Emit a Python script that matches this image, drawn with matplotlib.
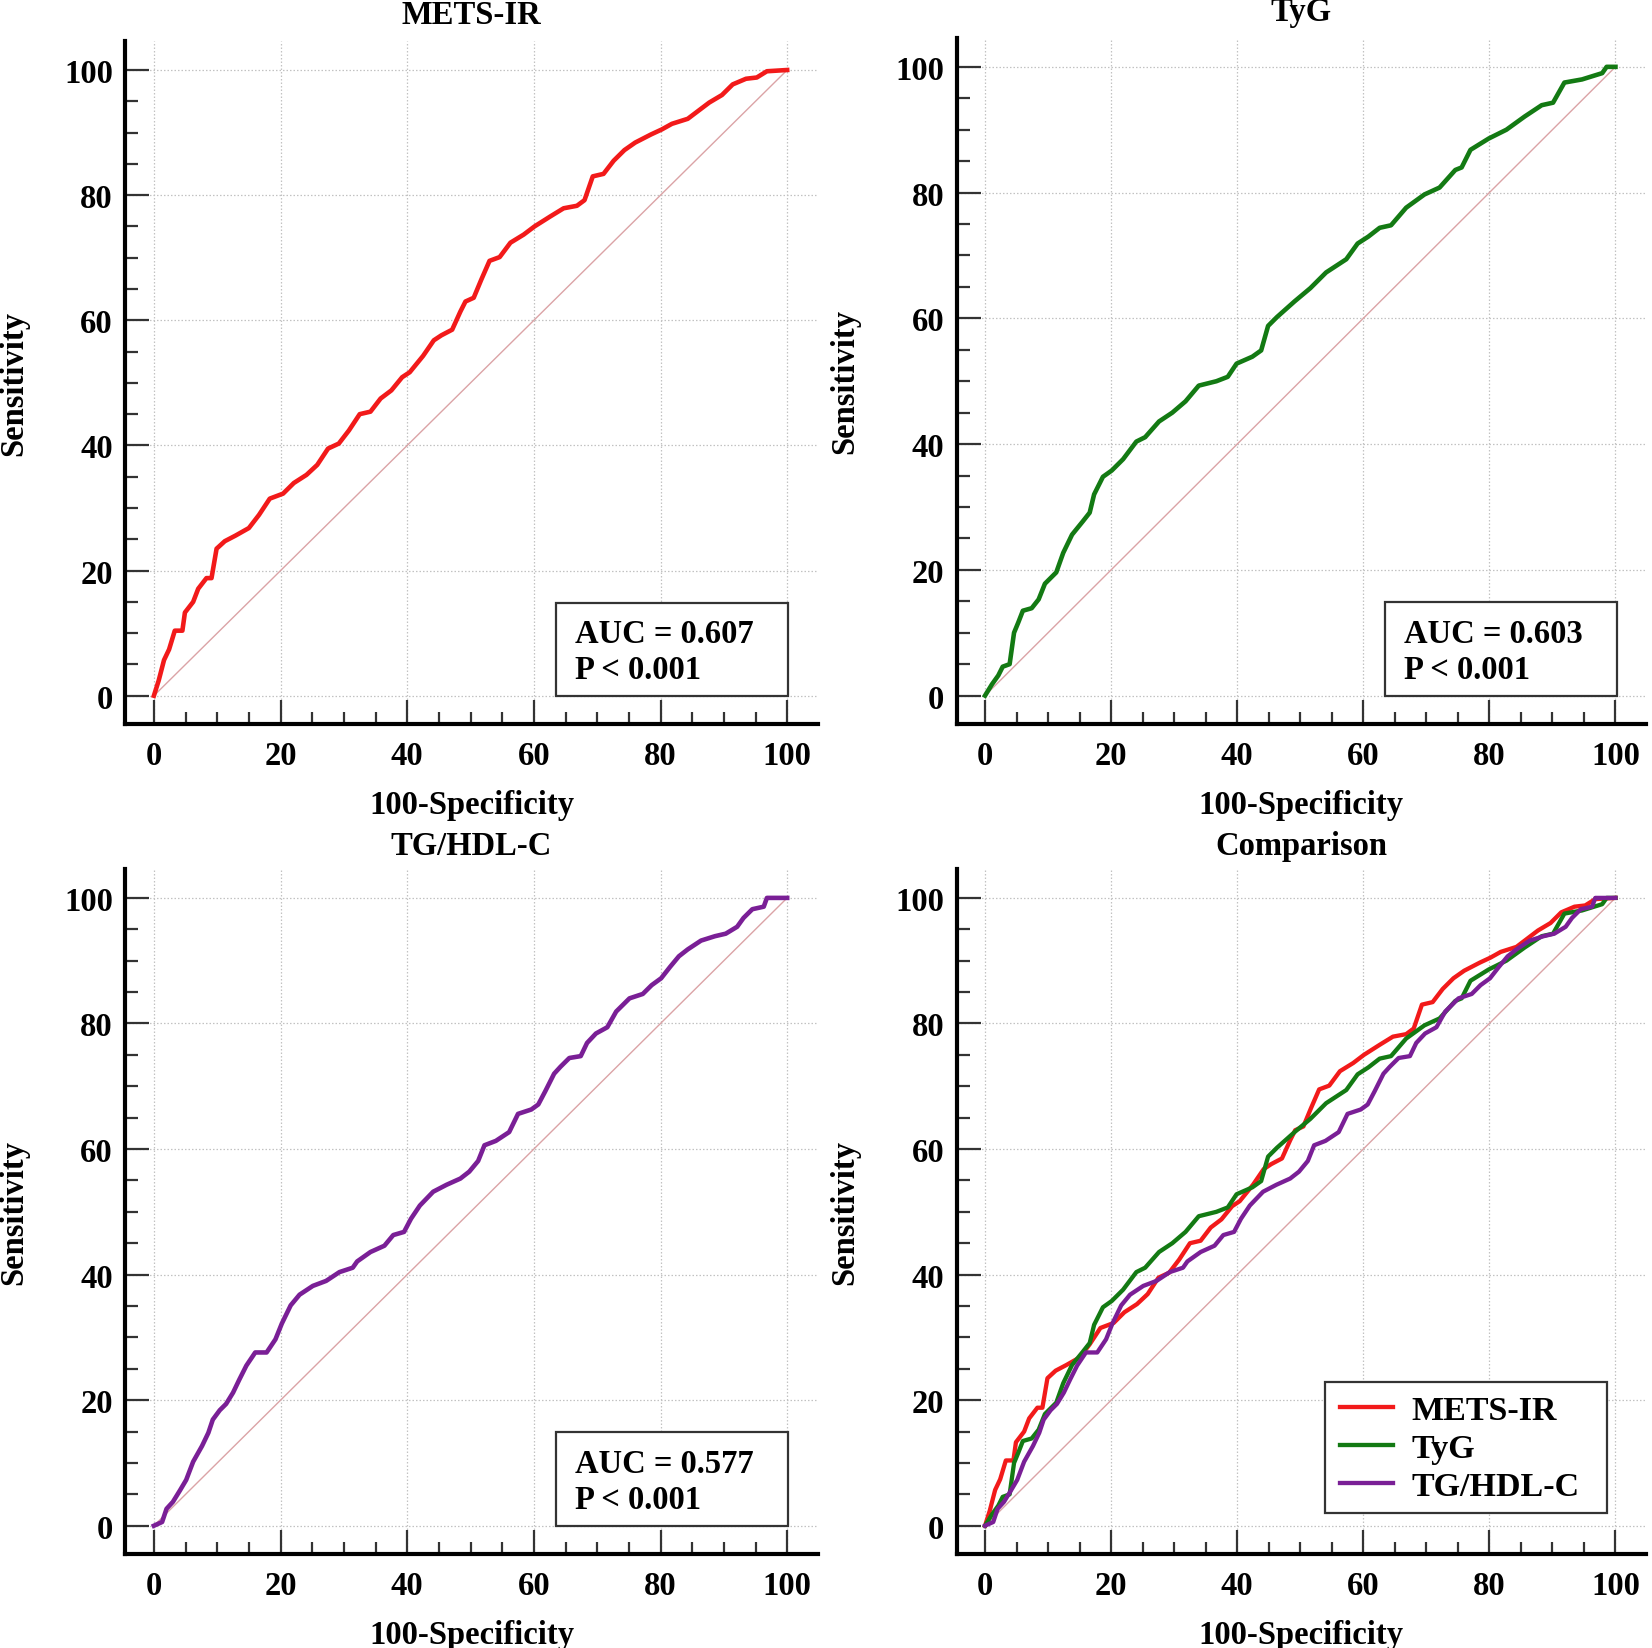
import matplotlib
matplotlib.use('Agg')
import matplotlib.pyplot as plt
from matplotlib.patches import Rectangle
from matplotlib.ticker import MultipleLocator

plt.rcParams['font.family'] = ['Liberation Serif', 'DejaVu Serif']
plt.rcParams['font.weight'] = 'bold'

# ---------------- data (100-Specificity, Sensitivity) ----------------
mets_x = [0, 0.75, 1.6, 2.4, 3.3, 4.5, 4.9, 6.2, 7.0, 8.3, 9.1, 9.9, 11.2, 12.9, 15.0, 16.6,
          18.3, 20.4, 22.1, 24.1, 25.8, 27.5, 29.2, 30.8, 32.5, 34.2, 35.8, 37.5, 39.2, 40.4,
          42.5, 44.2, 45.4, 47.1, 48.4, 49.2, 50.5, 51.7, 53.0, 54.6, 56.3, 58.4, 60.1, 62.6,
          64.7, 66.8, 68.0, 69.3, 71.0, 72.6, 74.3, 76.0, 78.5, 80.2, 81.8, 84.3, 86.0, 87.7,
          89.7, 91.4, 93.5, 95.2, 96.8, 100]
mets_y = [0, 2.4, 5.7, 7.4, 10.4, 10.4, 13.3, 15.0, 17.1, 18.8, 18.8, 23.5, 24.7, 25.6, 26.8, 28.9,
          31.5, 32.3, 34.0, 35.3, 36.9, 39.5, 40.3, 42.4, 45.0, 45.4, 47.5, 48.8, 50.9, 51.7,
          54.3, 56.8, 57.6, 58.5, 61.4, 63.0, 63.6, 66.5, 69.5, 70.1, 72.4, 73.7, 75.0, 76.6,
          77.9, 78.3, 79.2, 83.0, 83.4, 85.5, 87.2, 88.4, 89.7, 90.5, 91.4, 92.2, 93.5, 94.8,
          96.0, 97.7, 98.6, 98.8, 99.8, 100]

tyg_x = [0, 1.1, 2.1, 2.8, 3.9, 4.6, 5.3, 6.0, 7.4, 8.5, 9.5, 11.3, 12.4, 13.8, 15.5, 16.6,
         17.3, 18.7, 20.1, 21.9, 24.0, 25.4, 27.6, 29.7, 31.8, 33.9, 36.7, 38.5, 39.9, 42.4,
         43.8, 44.9, 46.3, 49.1, 51.6, 54.1, 57.3, 59.1, 60.8, 62.6, 64.4, 66.8, 69.7, 72.1,
         74.6, 75.6, 77.0, 79.9, 82.7, 85.6, 88.3, 90.1, 91.9, 94.7, 97.9, 98.6, 100]
tyg_y = [0, 1.8, 3.2, 4.6, 5.0, 10.0, 11.7, 13.5, 13.9, 15.3, 17.8, 19.6, 22.7, 25.6, 27.7, 29.1,
         32.0, 34.8, 35.8, 37.6, 40.4, 41.1, 43.6, 45.0, 46.8, 49.3, 50.0, 50.7, 52.8, 53.9,
         54.9, 58.8, 60.2, 62.7, 64.8, 67.3, 69.4, 71.9, 73.0, 74.4, 74.8, 77.6, 79.7, 80.8,
         83.6, 84.0, 86.8, 88.6, 90.0, 92.1, 93.9, 94.3, 97.5, 98.0, 99.0, 100, 100]

tg_x = [0, 1.3, 2.0, 3.0, 4.1, 5.1, 6.2, 7.6, 8.6, 9.3, 10.4, 11.4, 12.5, 13.5, 14.6, 16.0,
        17.8, 19.2, 20.2, 21.6, 23.0, 25.1, 27.2, 29.3, 31.4, 32.1, 34.2, 36.4, 37.8, 39.5,
        40.6, 42.0, 44.1, 46.2, 48.4, 49.8, 51.2, 52.2, 54.0, 56.1, 57.5, 59.6, 60.7, 61.8,
        63.2, 64.2, 65.6, 67.4, 68.4, 69.8, 71.6, 73.0, 75.1, 77.2, 78.6, 80.1, 81.5, 82.9,
        84.3, 86.4, 88.6, 90.3, 92.1, 93.1, 94.5, 96.3, 96.8, 100]
tg_y = [0, 0.6, 2.7, 3.8, 5.6, 7.3, 10.2, 12.7, 14.8, 16.9, 18.4, 19.4, 21.2, 23.3, 25.5, 27.6,
        27.6, 29.7, 32.2, 35.1, 36.8, 38.2, 39.0, 40.4, 41.1, 42.1, 43.6, 44.6, 46.3, 46.8,
        48.9, 51.0, 53.2, 54.3, 55.3, 56.4, 58.1, 60.6, 61.3, 62.7, 65.6, 66.3, 67.1, 69.2,
        72.0, 73.1, 74.5, 74.8, 76.9, 78.4, 79.4, 81.9, 84.0, 84.7, 86.1, 87.2, 89.0, 90.7,
        91.8, 93.2, 93.9, 94.3, 95.4, 96.8, 98.2, 98.6, 100, 100]

names = ['METS-IR', 'TyG', 'TG/HDL-C']
aucs = ['0.607', '0.603', '0.577']
p_text = 'P < 0.001'
colors = ['#f21a1a', '#137a13', '#7a1f96']
tick_vals = [0, 20, 40, 60, 80, 100]

FS = 23.5
XLIM = (-4.5, 104.8)
YLIM = (-4.5, 104.6)

fig = plt.figure(figsize=(16.52, 16.49), dpi=100)

positions = [
    [0.0759, 0.5604, 0.4190, 0.4140],
    [0.5791, 0.5604, 0.4171, 0.4160],
    [0.0759, 0.0570, 0.4190, 0.4154],
    [0.5791, 0.0570, 0.4171, 0.4154],
]
titles = ['METS-IR', 'TyG', 'TG/HDL-C', 'Comparison']
series = [(mets_x, mets_y), (tyg_x, tyg_y), (tg_x, tg_y)]


def style_axes(ax, title, tpad):
    ax.set_xlim(*XLIM)
    ax.set_ylim(*YLIM)
    for s in ['top', 'right']:
        ax.spines[s].set_visible(False)
    for s in ['left', 'bottom']:
        ax.spines[s].set_linewidth(3.0)
        ax.spines[s].set_color('black')
    ax.set_xticks(tick_vals)
    ax.set_yticks(tick_vals)
    ax.xaxis.set_minor_locator(MultipleLocator(5))
    ax.yaxis.set_minor_locator(MultipleLocator(5))
    ax.tick_params(which='major', direction='in', length=17, width=1.6, color='#333333',
                   labelsize=FS)
    ax.tick_params(axis='x', which='major', pad=11.5)
    ax.tick_params(axis='y', which='major', pad=9)
    ax.tick_params(which='minor', direction='in', length=9, width=1.6, color='#333333')
    for lab in ax.get_xticklabels() + ax.get_yticklabels():
        lab.set_fontweight('bold')
    ax.grid(True, which='major', linestyle=(0, (1.2, 1.6)), color='#c2c2c2', linewidth=0.9)
    ax.set_axisbelow(True)
    ax.plot([0, 100], [0, 100], color='#dba3a6', linewidth=1.0, zorder=2)
    ax.set_title(title, fontsize=FS, fontweight='bold', pad=tpad)
    ax.set_xlabel('100-Specificity', fontsize=FS, fontweight='bold', labelpad=13)
    ax.set_ylabel('Sensitivity', fontsize=FS, fontweight='bold', labelpad=25)


axes = [fig.add_axes(p) for p in positions]
title_pads = [13, 13, 11, 11]

for i in range(3):
    ax = axes[i]
    style_axes(ax, titles[i], title_pads[i])
    ax.plot(series[i][0], series[i][1], color=colors[i], linewidth=3.3, zorder=3,
            solid_joinstyle='round')
    ax.add_patch(Rectangle((63.5, 0.0), 36.7, 14.9, facecolor='white', edgecolor='#333333',
                           linewidth=1.6, zorder=4))
    ax.text(66.5, 8.6, 'AUC = ' + aucs[i], fontsize=FS, fontweight='bold', va='baseline',
            ha='left', zorder=5)
    ax.text(66.5, 2.8, p_text, fontsize=FS, fontweight='bold', va='baseline',
            ha='left', zorder=5)

ax = axes[3]
style_axes(ax, titles[3], title_pads[3])
for i in range(3):
    ax.plot(series[i][0], series[i][1], color=colors[i], linewidth=3.1, zorder=3,
            label=names[i], solid_joinstyle='round')
# legend frame drawn as a rectangle in data coordinates
ax.add_patch(Rectangle((53.9, 2.0), 44.8, 20.9, facecolor='white', edgecolor='#333333',
                       linewidth=1.6, zorder=4))
leg = ax.legend(loc='center left', bbox_to_anchor=(56.3, 12.3), bbox_transform=ax.transData,
                borderaxespad=0, frameon=False, borderpad=0,
                handlelength=1.55, handletextpad=0.56, labelspacing=0.2,
                prop={'size': 24.5, 'weight': 'bold'})
leg.set_zorder(5)

fig.savefig('out.png', dpi=100, facecolor='white')
